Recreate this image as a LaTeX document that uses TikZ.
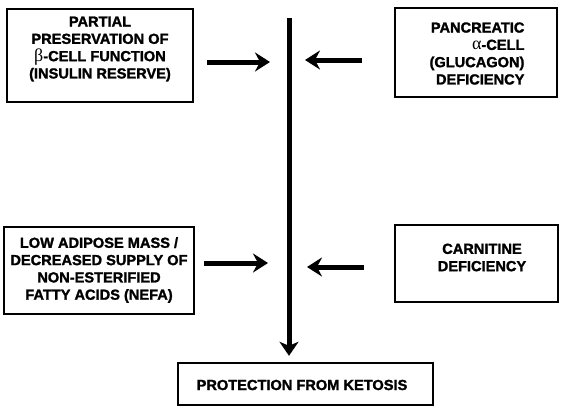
\documentclass[tikz,border=0pt]{standalone}
\usepackage{fontspec}
\setmainfont{Liberation Sans}[BoldFeatures={FakeBold=1.6}]
\newfontfamily\grk{Liberation Serif}
\usetikzlibrary{arrows.meta}
\tikzset{
  boxshape/.style={draw, line width=2.4pt, inner sep=0pt},
  boxtext/.style={font={\bfseries\fontsize{14.6}{17.3}\selectfont}, inner sep=0pt},
  harr/.style={line width=5pt, -{Stealth[length=15pt,width=19pt,inset=5pt]}},
  varr/.style={line width=5pt, -{Stealth[length=14pt,width=19pt,inset=4pt]}}
}
\newcommand{\gk}[1]{{\grk\mdseries\fontsize{18}{17.3}\selectfont #1}}
\begin{document}
\begin{tikzpicture}[x=1pt,y=-1pt]
\useasboundingbox (0,0) rectangle (562,407);
% boxes
\node[boxshape, minimum width=186pt, minimum height=93pt] (b1) at (100,55.5) {};
\node[boxtext, align=center] (t1) at (100,49) {PARTIAL\\PRESERVATION OF\\\gk{β}-CELL FUNCTION\\(INSULIN RESERVE)};
\node[boxshape, minimum width=162pt, minimum height=89pt] (b2) at (476,52.5) {};
\node[boxtext, align=right] (t2) at (477,53.5) {PANCREATIC\\\gk{α}-CELL\\(GLUCAGON)\\DEFICIENCY};
\node[boxshape, minimum width=190pt, minimum height=87pt] (b3) at (99,270.5) {};
\node[boxtext, align=center] (t3) at (99,270) {LOW ADIPOSE MASS /\\DECREASED SUPPLY OF\\NON-ESTERIFIED\\FATTY ACIDS (NEFA)};
\node[boxshape, minimum width=163pt, minimum height=77pt] (b4) at (476.5,263.5) {};
\node[boxtext, align=center] (t4) at (482,257.5) {CARNITINE\\DEFICIENCY};
\node[boxshape, minimum width=255pt, minimum height=42pt] (b5) at (305.5,384) {};
\node[boxtext] (t5) at (302,385) {PROTECTION FROM KETOSIS};
% central line
\coordinate (vtop) at (289,18);
\draw[varr, shorten >=6pt] (vtop) -- (vtop |- b5.north);
% side arrows
\coordinate (y1) at (0,62);
\coordinate (y2) at (0,60);
\coordinate (y3) at (0,263);
\coordinate (y4) at (0,267);
\draw[harr, shorten <=13pt, shorten >=19pt] (b1.east |- y1) -- (vtop |- y1);
\draw[harr, shorten <=32pt, shorten >=16pt] (b2.west |- y2) -- (vtop |- y2);
\draw[harr, shorten <=9pt, shorten >=21pt] (b3.east |- y3) -- (vtop |- y3);
\draw[harr, shorten <=30pt, shorten >=18pt] (b4.west |- y4) -- (vtop |- y4);
\end{tikzpicture}
\end{document}
